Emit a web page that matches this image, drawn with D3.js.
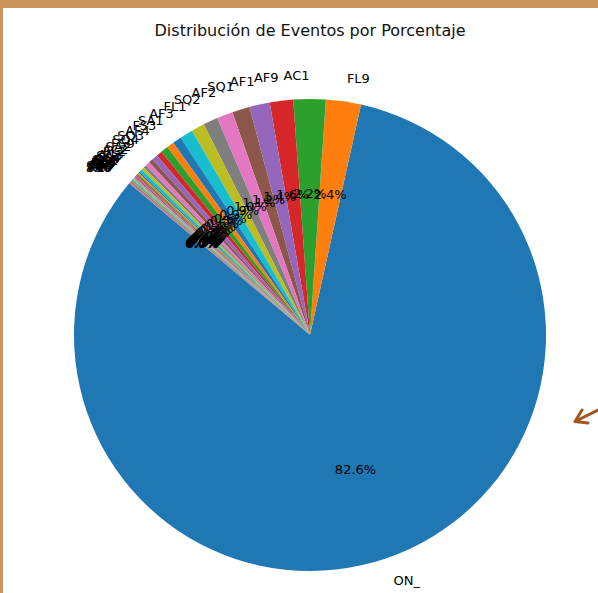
<!DOCTYPE html>
<html>
<head>
<meta charset="utf-8">
<script src="https://cdn.jsdelivr.net/npm/d3@7"></script>
<style>
  html, body { margin: 0; padding: 0; background: #fff; }
  svg { display: block; font-family: "DejaVu Sans", sans-serif; }
</style>
</head>
<body>
<svg id="chart"></svg>
<script>
// categorias (codigos de evento) en el orden del pastel
const categorias = ["ON_", "FL9", "AC1", "AF9", "AF1", "SQ1", "AF2", "SQ2", "FL1", "AF3",
  "SA1", "FS3", "AF4", "SQ3", "SQ4", "FS9", "SA2", "AC2", "FL2", "AC3",
  "SA3", "FL4", "AC4", "SQ9", "FS1", "FS2", "SA4", "AC9", "FL3", "SA9",
  "FS4", "AF0", "SQ0", "AC0", "FL0", "SA0", "FS0"];

// porcentaje de eventos por categoria
const porcentajes = [82.6, 2.4, 2.2, 1.6, 1.4, 1.2, 1.1, 1.0, 0.9, 0.9,
  0.6, 0.5, 0.5, 0.4, 0.4, 0.3, 0.3, 0.2, 0.2, 0.2,
  0.1, 0.1, 0.08, 0.08, 0.07, 0.07, 0.07, 0.06, 0.06, 0.06,
  0.05, 0.05, 0.05, 0.04, 0.04, 0.04, 0.03];

const titulo = "Distribución de Eventos por Porcentaje";

const width = 598;
const height = 593;
const cx = 310, cy = 335, radio = 236;
// matplotlib: startangle=140, sentido antihorario
const inicio = (90 - 140) * Math.PI / 180;

const svg = d3.select('#chart')
  .attr('width', width)
  .attr('height', height)
  .attr('viewBox', "0 0 " + width + " " + height);

// marco de la captura
svg.append('rect').attr('x', 0).attr('y', 0).attr('width', width).attr('height', 8).attr('fill', '#c9955b');
svg.append('rect').attr('x', 0).attr('y', 0).attr('width', 3).attr('height', height).attr('fill', '#c9955b');

const datos = categorias.map((c, i) => ({ cat: c, val: porcentajes[i] }));
const total = d3.sum(porcentajes);

const color = d3.scaleOrdinal()
  .domain(d3.range(10))
  .range(d3.schemeCategory10);

const pie = d3.pie()
  .sort(null)
  .value(d => d.val)
  .startAngle(inicio)
  .endAngle(inicio - 2 * Math.PI);

const arcos = pie(datos);
const arc = d3.arc().innerRadius(0).outerRadius(radio);

const g = svg.append('g').attr('transform', `translate(${cx},${cy})`);

g.selectAll('path')
  .data(arcos)
  .enter()
  .append('path')
  .attr('d', arc)
  .attr('fill', (d, i) => color(i % 10));

const fmt = d3.format(".1f");
const medio = d => (d.startAngle + d.endAngle) / 2;

// etiquetas de categoria (1.1 radio)
g.selectAll('text.cat')
  .data(arcos)
  .enter()
  .append('text')
  .attr('class', 'cat')
  .attr('x', d => 1.1 * radio * Math.sin(medio(d)))
  .attr('y', d => -1.1 * radio * Math.cos(medio(d)))
  .attr('text-anchor', d => Math.sin(medio(d)) > 0 ? 'start' : 'end')
  .attr('dominant-baseline', 'central')
  .attr('font-size', 13)
  .attr('fill', '#000')
  .text(d => d.data.cat);

// porcentajes (0.6 radio)
g.selectAll('text.pct')
  .data(arcos)
  .enter()
  .append('text')
  .attr('class', 'pct')
  .attr('x', d => 0.6 * radio * Math.sin(medio(d)))
  .attr('y', d => -0.6 * radio * Math.cos(medio(d)))
  .attr('text-anchor', 'middle')
  .attr('dominant-baseline', 'central')
  .attr('font-size', 13)
  .attr('fill', '#000')
  .text(d => fmt(d.data.val / total * 100) + "%");

svg.append('text')
  .attr('x', cx)
  .attr('y', 30)
  .attr('text-anchor', 'middle')
  .attr('dominant-baseline', 'central')
  .attr('font-size', 16)
  .attr('fill', '#111')
  .text(titulo);

// flecha dibujada a mano
svg.append('path')
  .attr('d', 'M598,410 L576,421 M582,410 L575,421.5 L588,423')
  .attr('fill', 'none')
  .attr('stroke', '#a0561e')
  .attr('stroke-width', 3)
  .attr('stroke-linecap', 'round')
  .attr('stroke-linejoin', 'round');
</script>
</body>
</html>
